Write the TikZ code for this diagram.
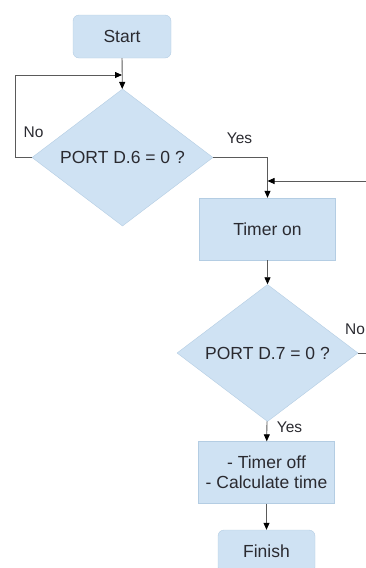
\documentclass[tikz,border=0pt]{standalone}
\usepackage{fontspec}
\setmainfont{Liberation Sans}
\usetikzlibrary{shapes.geometric,arrows.meta}

\definecolor{cor_fill}{HTML}{CFE2F3}
\definecolor{cor_borda}{HTML}{B4CDE3}
\definecolor{cor_linha}{HTML}{5A5A5A}
\definecolor{cor_texto}{HTML}{2A2A30}

\begin{document}
\begin{tikzpicture}[x=1pt,y=-1pt]
        \tikzset{
            caixa/.style={
                draw=cor_borda,
                fill=cor_fill,
                text=cor_texto,
                align=center,
                inner sep=0pt,
                font=\fontsize{17.5}{20}\selectfont,
                minimum width=136pt,
                minimum height=62pt
            },
            term/.style={caixa, rounded corners=6pt, minimum width=98pt, minimum height=43pt},
            decisao/.style={caixa, diamond, minimum width=181pt, minimum height=130pt},
            rotulo/.style={text=cor_texto, inner sep=0pt, font=\fontsize{15.5}{18}\selectfont},
            linha/.style={draw=cor_linha, line width=0.8pt},
            seta/.style={linha, -{Triangle[length=7pt,width=6pt,color=black]}}
        }
        \useasboundingbox (0,0) rectangle (366,568);
        \clip (0,0) rectangle (366,568);

        % CAIXAS
        \node[term] (start) at (122,36.5) {Start};
        \node[decisao] (d6) at (122.5,157.5) {PORT D.6 = 0 ?};
        \node[caixa] (timer) at (267.5,229) {Timer on};
        \node[decisao] (d7) at (267.5,353) {PORT D.7 = 0 ?};
        \node[caixa, minimum height=62pt] (calc) at (266.5,472.5) {- Timer off\\- Calculate time};
        \node[term, minimum width=97pt] (finish) at (266.5,551.5) {Finish};

        % ROTULOS
        \node[rotulo] (no6) at (33.5,132) {No};
        \node[rotulo] (yes6) at (239.5,138) {Yes};
        \node[rotulo, anchor=west] (no7) at (345,329) {No};
        \node[rotulo] (yes7) at (289.5,427.5) {Yes};

        % PONTOS DE APOIO
        \coordinate (c1) at (15,157.5);
        \coordinate (c2) at (15,75);
        \coordinate (c3) at (267.5,157.5);
        \coordinate (c4) at (390,353);
        \coordinate (c5) at (390,181);

        % LIGACOES
        \draw[seta] (start) -- (d6);
        \draw[seta] (d6.west) -- (c1) -- (c2) -- (start.south |- c2);
        \draw[seta] (d6.east) -- (c3) -- (timer);
        \draw[seta] (d7.east) -- (c4) -- (c5) -- (timer.north |- c5);
        \draw[seta] (timer) -- (d7);
        \draw[seta] (d7) -- (calc);
        \draw[seta] (calc) -- (finish);

    \end{tikzpicture}
\end{document}
